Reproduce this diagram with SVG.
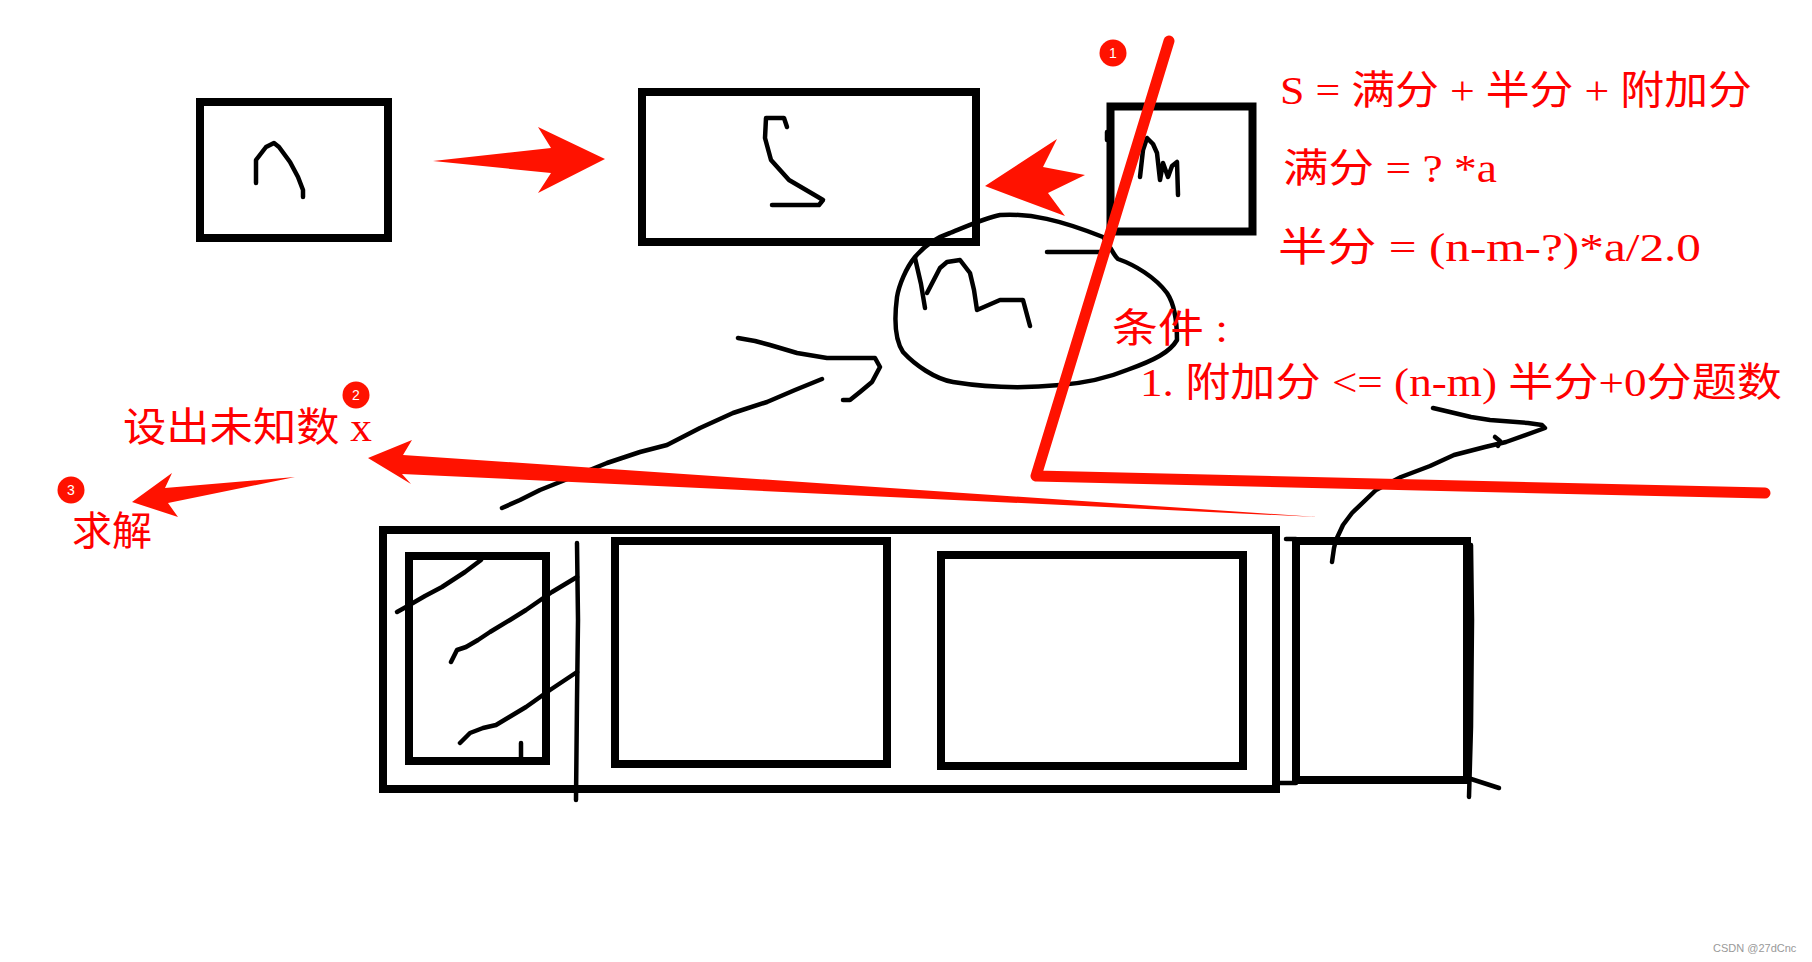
<svg xmlns="http://www.w3.org/2000/svg" width="1812" height="962" viewBox="0 0 1812 962">
<style>
.box{fill:none;stroke:#000;stroke-width:8;stroke-linejoin:miter}
.ink{fill:none;stroke:#000;stroke-width:4.5;stroke-linecap:round;stroke-linejoin:round}
.red{fill:#ff1200;stroke:none}
.rtx{fill:#ff0000;font-family:"Liberation Serif","Noto Sans CJK SC",serif;font-size:40px}
.badge{fill:#ff1200}
.bnum{fill:#fff;font-family:"Liberation Sans",Arial,sans-serif;font-size:14px;text-anchor:middle}
</style>
<rect width="1812" height="962" fill="#fff"/>

<g id="box-a">
<rect class="box" x="200" y="102" width="188" height="136"/>
<polyline class="ink" stroke-width="5" points="256,183 256,160 266,147 274,143 279,147 290,162 298,177 303,190 303,197"/>
</g>

<g id="box-s">
<rect class="box" x="642" y="92" width="334" height="150"/>
<polyline class="ink" points="787,127 784,118 766,118 765,138 771,160 789,180 818,197 823,200 819,205 772,205"/>
</g>

<g id="box-m">
<rect class="box" x="1110.5" y="106.5" width="142" height="125"/>
<line class="ink" x1="1107" y1="132" x2="1107" y2="140" stroke-width="5"/>
<polyline class="ink" stroke-width="5.5" points="1140,177 1143,150 1147,138 1153,144 1157,153 1160,180 1163,163 1168,177 1172,166 1177,162 1178,195"/>
</g>

<g id="cloud">
<path class="ink" d="M915,257 C925,245 935,238 950,233 C970,225 985,218 1000,215 C1030,213 1060,220 1103,237 C1110,245 1113,255 1118,259 C1135,265 1155,277 1167,293 C1175,305 1177,325 1177,340 C1170,352 1155,360 1127,370 C1110,377 1085,383 1060,385 C1030,388 990,388 953,382 C935,379 915,365 903,352 C895,340 894,320 897,297 C899,285 906,268 915,257 Z"/>
<line class="ink" x1="1047" y1="252" x2="1100" y2="252"/>
<polyline class="ink" points="915,258 921,284 925,308"/>
<polyline class="ink" points="927,293 940,268 947,262 960,260 970,273 974,290 977,310 1000,300 1023,300 1030,326"/>
</g>

<g id="sketch-arrow-left">
<polyline class="ink" points="502,508 520,500 540,490 575,476 607,463 640,452 667,445 700,428 733,413 767,402 795,390 822,379"/>
<polyline class="ink" points="738,338 755,341 770,345 797,353 827,358 852,358 875,358 880,367 872,382 860,392 850,400 843,400"/>
</g>

<g id="container">
<rect class="box" x="383" y="530" width="893" height="259"/>
<rect class="box" x="409" y="556" width="137" height="205"/>
<rect class="box" x="615" y="541" width="272" height="223"/>
<rect class="box" x="941" y="555" width="302" height="211"/>
<polyline class="ink" stroke-width="6" points="577,543 578,620 577,700 576,800"/>
<polyline class="ink" points="397,612 406,607 425,596 442,587 465,572 481,560"/>
<polyline class="ink" points="451,662 457,650 466,647 478,640 490,632 510,620 526,610 552,592 577,577"/>
<polyline class="ink" points="460,743 470,733 483,728 496,725 511,716 526,707 550,690 577,672"/>
<line class="ink" x1="521" y1="743" x2="521" y2="758"/>
</g>

<g id="box-4">
<rect class="box" x="1296" y="541" width="171" height="239"/>
<line class="ink" x1="1286" y1="539" x2="1296" y2="539"/>
<line class="ink" x1="1276" y1="783" x2="1296" y2="783" stroke-width="6"/>
<polyline class="ink" points="1471,545 1472,620 1471,727 1469,797"/>
<line class="ink" x1="1468" y1="778" x2="1499" y2="788"/>
<polyline class="ink" points="1332,562 1334,548 1336,540 1343,525 1352,513 1376,490 1401,477 1430,466 1454,455 1485,447 1506,442 1545,428 1542,425 1528,423 1490,420 1471,417 1450,412 1433,408"/>
<polyline class="ink" points="1495,437 1500,441 1498,446"/>
</g>

<g id="connectors">
<polygon id="arrow-a-s" class="red" points="433,161 551,148 538,127 605,159 538,193 551,173"/>
<polygon id="arrow-m-s" class="red" points="985,186 1057,139 1043,167 1085,175 1048,193 1065,216"/>
<polygon id="arrow-x" class="red" points="368,458 412,440 403,455 1317,517 402,474 411,484"/>
<polygon id="arrow-solve" class="red" points="132,502 172,473 165,488 295,477 168,503 178,517"/>
<polyline id="red-one" fill="none" stroke="#ff1200" stroke-width="11" stroke-linecap="round" stroke-linejoin="round" points="1169,41 1036,476 1765,493"/>
</g>

<g id="badges">
<circle class="badge" cx="1113" cy="53" r="13.5"/>
<text class="bnum" x="1113" y="58">1</text>
<circle class="badge" cx="356" cy="395" r="13.5"/>
<text class="bnum" x="356" y="400">2</text>
<circle class="badge" cx="71" cy="490" r="13.5"/>
<text class="bnum" x="71" y="495">3</text>
</g>

<g id="texts">
<text class="rtx" x="1280" y="104" textLength="472" lengthAdjust="spacingAndGlyphs">S = 满分 + 半分 + 附加分</text>
<text class="rtx" x="1283" y="182" textLength="214" lengthAdjust="spacingAndGlyphs">满分 = ? *a</text>
<text class="rtx" x="1278" y="261" textLength="423" lengthAdjust="spacingAndGlyphs">半分 = (n-m-?)*a/2.0</text>
<text class="rtx" x="1112" y="342" textLength="116" lengthAdjust="spacingAndGlyphs">条件 :</text>
<text class="rtx" x="1140" y="396" textLength="642" lengthAdjust="spacingAndGlyphs">1. 附加分 &lt;= (n-m) 半分+0分题数</text>
<text class="rtx" x="123" y="441" textLength="249" lengthAdjust="spacingAndGlyphs">设出未知数 x</text>
<text class="rtx" x="72" y="545" textLength="80" lengthAdjust="spacingAndGlyphs">求解</text>
<text x="1713" y="952" fill="#999" font-family="'Liberation Sans',Arial,sans-serif" font-size="11">CSDN @27dCnc</text>
</g>
</svg>
